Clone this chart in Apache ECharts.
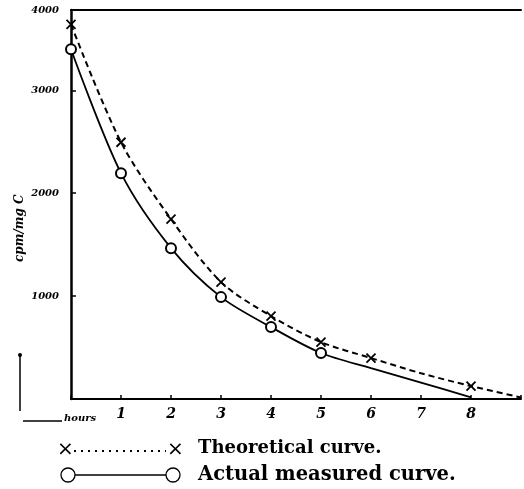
<!DOCTYPE html>
<html>
<head>
<meta charset="utf-8">
<script src="https://cdn.jsdelivr.net/npm/echarts@6/dist/echarts.min.js"></script>
<style>
  html, body { margin: 0; padding: 0; background: #fff; }
  #chart { width: 524px; height: 489px; }
</style>
</head>
<body>
<div id="chart"></div>
<script>
// hours after injection
var hours = [0, 1, 2, 3, 4, 5, 6, 7, 8, 9];
// theoretical curve (x markers)
var theoretical = [3640, 2495, 1748, 1136, 806, 553, 398, 250, 126, 15];
var theoMarked = [0, 1, 2, 3, 4, 5, 6, 8];
// actual measured curve (o markers)
var actual = [3398, 2194, 1466, 990, 699, 447, 300, 160, 15];
var actualMarked = [0, 1, 2, 3, 4, 5];
var yTickLabels = ['', '1000', '2000', '3000', '4000'];
var xTickLabels = ['', '1', '2', '3', '4', '5', '6', '7', '8', ''];

var yMax = 3780;
var crossPath = 'path://M0,0L10,10M10,0L0,10';
var tickFont = { color: '#000', fontFamily: 'DejaVu Serif', fontStyle: 'italic', fontWeight: 'bold' };

function buildData(values, marked) {
  return values.map(function (v, i) {
    var item = { value: [hours[i], v] };
    if (marked.indexOf(hours[i]) < 0) item.symbol = 'none';
    return item;
  });
}

function caption(text, x, y, size) {
  return { type: 'text', x: x, y: y, style: { text: text, fill: '#000', font: 'bold ' + size + 'px DejaVu Serif' } };
}

var myChart = echarts.init(document.getElementById('chart'));
var option = {
  animation: false,
  backgroundColor: '#fff',
  grid: { left: 71, right: 0, top: 10, bottom: 90 },
  xAxis: [
    {
      type: 'value', min: 0, max: 9, interval: 1,
      axisLine: { lineStyle: { color: '#000', width: 2 } },
      axisTick: { inside: true, length: 4, lineStyle: { color: '#000', width: 1.5 } },
      splitLine: { show: false },
      axisLabel: Object.assign({ fontSize: 14, margin: 8, formatter: function (v) { return xTickLabels[v] || ''; } }, tickFont)
    },
    {
      type: 'value', position: 'top', min: 0, max: 9,
      axisLine: { show: true, lineStyle: { color: '#000', width: 2 } },
      axisTick: { show: false }, axisLabel: { show: false }, splitLine: { show: false }
    }
  ],
  yAxis: {
    type: 'value', min: 0, max: yMax, interval: 1000,
    axisLine: { show: true, lineStyle: { color: '#000', width: 2.5 } },
    axisTick: { inside: true, length: 5, lineStyle: { color: '#000', width: 1.5 } },
    splitLine: { show: false },
    axisLabel: Object.assign({
      fontSize: 10, margin: 12, showMaxLabel: true,
      formatter: function (v) { return v >= yMax ? yTickLabels[4] : yTickLabels[Math.round(v / 1000)]; }
    }, tickFont)
  },
  series: [
    {
      name: 'Theoretical curve.',
      type: 'line',
      smooth: 0.3,
      data: buildData(theoretical, theoMarked),
      symbol: crossPath,
      symbolSize: 9,
      itemStyle: { color: '#000', borderColor: '#000', borderWidth: 1.8 },
      lineStyle: { color: '#000', width: 2, type: [6, 4] }
    },
    {
      name: 'Actual measured curve.',
      type: 'line',
      smooth: 0.3,
      data: buildData(actual, actualMarked),
      symbol: 'circle',
      symbolSize: 10,
      itemStyle: { color: '#fff', borderColor: '#000', borderWidth: 2 },
      lineStyle: { color: '#000', width: 1.8 }
    }
  ],
  graphic: [
    // y axis name
    {
      type: 'text', x: 14, y: 262, rotation: Math.PI / 2,
      style: { text: 'cpm/mg C', fill: '#000', font: 'italic bold 12px DejaVu Serif' }
    },
    // vertical arrow
    { type: 'line', shape: { x1: 20, y1: 354, x2: 20, y2: 411 }, style: { stroke: '#000', lineWidth: 1.5 } },
    { type: 'circle', shape: { cx: 20, cy: 355, r: 2 }, style: { fill: '#000' } },
    // hours arrow
    { type: 'line', shape: { x1: 23, y1: 421, x2: 62, y2: 421 }, style: { stroke: '#000', lineWidth: 1.5 } },
    {
      type: 'text', x: 64, y: 413,
      style: { text: 'hours', fill: '#000', font: 'italic bold 10px DejaVu Serif' }
    },
    // legend row 1
    { type: 'text', x: 57, y: 440, style: { text: '×', fill: '#000', font: '20px DejaVu Sans' } },
    { type: 'line', shape: { x1: 74, y1: 451, x2: 166, y2: 451 }, style: { stroke: '#000', lineWidth: 2, lineDash: [2, 5] } },
    { type: 'text', x: 167, y: 440, style: { text: '×', fill: '#000', font: '20px DejaVu Sans' } },
    caption('Theoretical curve.', 198, 439, 18),
    // legend row 2
    { type: 'circle', shape: { cx: 68, cy: 475, r: 7 }, style: { fill: '#fff', stroke: '#000', lineWidth: 1.3 } },
    { type: 'line', shape: { x1: 75, y1: 475, x2: 166, y2: 475 }, style: { stroke: '#000', lineWidth: 1.3 } },
    { type: 'circle', shape: { cx: 173, cy: 475, r: 7 }, style: { fill: '#fff', stroke: '#000', lineWidth: 1.3 } },
    caption('Actual measured curve.', 198, 465, 19.5)
  ]
};
myChart.setOption(option);
</script>
</body>
</html>
